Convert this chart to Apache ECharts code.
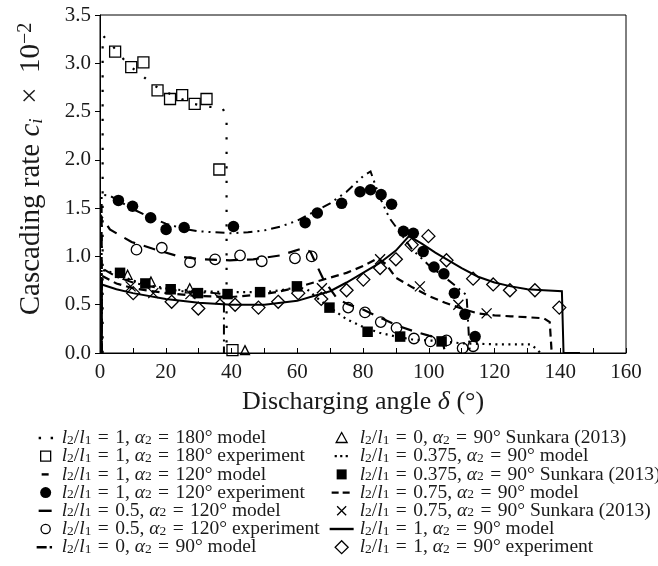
<!DOCTYPE html>
<html><head><meta charset="utf-8">
<script src="https://cdn.jsdelivr.net/npm/echarts@6/dist/echarts.min.js"></script>
<style>html,body{margin:0;padding:0;background:#fff}#c{width:658px;height:566px}</style>
</head><body><div id="c"></div><script>
// ---------- data ----------
const xTicks = [0, 20, 40, 60, 80, 100, 120, 140, 160];
const yTicks = [0, 0.5, 1.0, 1.5, 2.0, 2.5, 3.0, 3.5];

const names = [
  'l2/l1 = 1, α2 = 180° model',
  'l2/l1 = 1, α2 = 180° experiment',
  'l2/l1 = 1, α2 = 120° model',
  'l2/l1 = 1, α2 = 120° experiment',
  'l2/l1 = 0.5, α2 = 120° model',
  'l2/l1 = 0.5, α2 = 120° experiment',
  'l2/l1 = 0, α2 = 90° model',
  'l2/l1 = 0, α2 = 90° Sunkara (2013)',
  'l2/l1 = 0.375, α2 = 90° model',
  'l2/l1 = 0.375, α2 = 90° Sunkara (2013)',
  'l2/l1 = 0.75, α2 = 90° model',
  'l2/l1 = 0.75, α2 = 90° Sunkara (2013)',
  'l2/l1 = 1, α2 = 90° model',
  'l2/l1 = 1, α2 = 90° experiment'
];

const m180 = [[0.8,0],[0.8,3.29],[3.6,3.19],[6.4,3.07],[9.5,2.96],[12.9,2.87],[16.4,2.77],[20.3,2.70],[24.1,2.64],[28.6,2.58],[32.6,2.55],[37.2,2.54],[38.5,2.45],[38.5,0]];
const e180 = [[4.6,3.12],[9.5,2.96],[13.2,3.01],[17.5,2.72],[21.3,2.63],[25.0,2.67],[28.8,2.58],[32.4,2.63],[36.3,1.90],[40.3,0.03]];
const m120 = [[0.5,0],[0.5,1.64],[3,1.63],[6,1.57],[10,1.49],[15,1.41],[20,1.34],[25,1.29],[30,1.26],[35,1.25],[40,1.24],[45,1.25],[50,1.27],[55,1.31],[60,1.37],[65,1.46],[70,1.55],[75,1.67],[80,1.83],[82.3,1.88],[85,1.62],[88,1.40],[91,1.26],[95,1.07],[100,0.91],[105,0.78],[108,0.70],[111.5,0.60],[112,0.30],[112.5,0]];
const e120 = [[5.6,1.58],[9.9,1.52],[15.4,1.40],[20.1,1.28],[25.6,1.30],[40.6,1.31],[62.4,1.35],[66.1,1.45],[73.5,1.55],[79.1,1.67],[82.3,1.69],[85.5,1.64],[88.7,1.54],[92.3,1.26],[95.3,1.24],[98.3,1.05],[101.6,0.89],[104.6,0.82],[107.8,0.62],[111.0,0.40],[114.1,0.17]];
const m05 = [[0.5,0],[0.5,1.41],[3,1.28],[6,1.22],[9.6,1.15],[17,1.07],[24,1.00],[31,0.97],[39.5,0.96],[46.6,0.97],[54.8,1.01],[61.3,1.08],[64,1.05],[65.9,0.91],[68,0.76],[72,0.57],[75,0.51],[80,0.45],[85,0.37],[90,0.29],[95,0.23],[100,0.18],[104,0.15],[105,0]];
const e05 = [[11.1,1.07],[18.8,1.09],[27.4,0.94],[35,0.97],[42.6,1.01],[49.2,0.95],[59.3,0.98],[64.4,1.00],[75.5,0.47],[80.6,0.42],[85.4,0.32],[90.2,0.26],[95.5,0.15],[100.5,0.12],[105.4,0.13],[110.3,0.05],[113.5,0.07]];
const m0 = [[0.5,0],[0.5,0.88],[5,0.79],[10,0.73],[15,0.69],[20,0.66],[25,0.64],[30,0.63],[35,0.62],[37.7,0.61],[37.7,0]];
const s0 = [[8.4,0.81],[15.5,0.74],[27.3,0.67],[44.1,0.03]];
const m0375 = [[0.5,0],[0.5,0.86],[3,0.84],[6,0.80],[10,0.75],[15,0.70],[20,0.67],[25,0.65],[30,0.64],[40,0.63],[50,0.63],[55,0.65],[60,0.68],[63,0.66],[66,0.57],[70,0.47],[75,0.35],[80,0.27],[85,0.21],[90,0.17],[95,0.14],[100,0.13],[105,0.12],[110,0.10],[120,0.09],[131,0.09],[132.5,0.05],[134,0]];
const s0375 = [[6.1,0.83],[13.8,0.72],[21.5,0.66],[29.8,0.62],[38.8,0.61],[48.7,0.63],[59.9,0.69],[69.8,0.47],[81.4,0.22],[91.3,0.17],[103.9,0.12]];
const m075 = [[0.5,0],[0.5,0.80],[5,0.72],[10,0.67],[20,0.62],[30,0.59],[40,0.58],[50,0.61],[55,0.64],[60,0.68],[65,0.73],[70,0.78],[75,0.83],[80,0.90],[84.5,0.98],[87,0.92],[90,0.78],[95,0.68],[100,0.59],[105,0.52],[110,0.46],[115,0.41],[120,0.39],[125,0.38],[130,0.37],[135,0.36],[136.8,0.32],[137.4,0]];
const s075 = [[9.3,0.69],[16.2,0.62],[27.5,0.61],[36.5,0.56],[67.5,0.67],[85.2,0.97],[97.3,0.69],[109,0.50],[117.6,0.41]];
const m1 = [[0.5,0],[0.5,0.71],[5,0.66],[10,0.62],[20,0.56],[30,0.52],[40,0.50],[50,0.50],[55,0.52],[60,0.54],[65,0.59],[70,0.64],[75,0.73],[80,0.83],[85,0.93],[90,1.06],[94,1.21],[98,1.13],[102,1.04],[106,0.96],[110,0.88],[115,0.79],[120,0.73],[125,0.69],[130,0.66],[135,0.65],[140.5,0.64],[141,0],[146,0]];
const e1 = [[10.1,0.62],[21.8,0.53],[29.9,0.46],[41.1,0.50],[48.2,0.47],[54.2,0.53],[60.3,0.62],[67.3,0.56],[75,0.65],[80.1,0.76],[85.2,0.88],[90,0.97],[94.8,1.12],[99.9,1.21],[105.4,0.96],[113.5,0.77],[119.6,0.71],[124.7,0.65],[132.3,0.65],[139.7,0.47]];

// ---------- styling ----------
const FONT = '"Liberation Serif", "DejaVu Serif", serif';
const INK = '#000';
const TXT = '#1a1a1a';
const OPEN = {color: 'rgba(0,0,0,0)', borderColor: INK, borderWidth: 1.3, opacity: 1};
const FILLED = {color: INK, borderWidth: 0, opacity: 1};
const CROSS = 'path://M0,0L10,10M10,0L0,10';

function lineS(name, data, dash, width) {
  return {name, type: 'line', data, symbol: 'none', z: 2, animation: false,
    lineStyle: {color: INK, width: width || 2, type: dash || 'solid', cap: 'butt', join: 'miter'},
    itemStyle: {color: INK}, emphasis: {disabled: true}};
}
function scat(name, data, symbol, size, style) {
  return {name, type: 'scatter', data, symbol, symbolSize: size, z: 3, animation: false,
    itemStyle: style, emphasis: {disabled: true}};
}

const series = [
  lineS(names[0], m180, [2.2, 12.3], 2.2),
  scat(names[1], e180, 'rect', 11, OPEN),
  lineS(names[2], m120, [9, 5, 2, 5, 2, 5], 2),
  scat(names[3], e120, 'circle', 11.5, FILLED),
  lineS(names[4], m05, [12, 9], 2.2),
  scat(names[5], e05, 'circle', 10.5, OPEN),
  lineS(names[6], m0, [10, 5, 2, 5], 2),
  scat(names[7], s0, 'triangle', 9, OPEN),
  lineS(names[8], m0375, [2, 4.5], 2.2),
  scat(names[9], s0375, 'rect', 10.5, FILLED),
  lineS(names[10], m075, [8, 5], 2.2),
  scat(names[11], s075, CROSS, 10, OPEN),
  lineS(names[12], m1, 'solid', 2),
  scat(names[13], e1, 'diamond', 13, OPEN)
];

// legend icons: drawn in a W x H box (corner moveTo points fix the box)
function rect(x, y, w, h) { return `M${x},${y}h${w}v${h}h${-w}Z`; }
function icon(kind, W, H) {
  const cx = W / 2, cy = H / 2, t = 2.4;
  let p = '';
  switch (kind) {
    case 'dots2': p = rect(cx - 7, cy - 1.2, 2.4, 2.4) + rect(cx + 5, cy - 1.2, 2.4, 2.4); break;
    case 'shortdash': p = rect(cx - 4, cy - t / 2, 7, t); break;
    case 'dash': p = rect(cx - 7, cy - t / 2, 13, t); break;
    case 'dashdot': p = rect(cx - 9, cy - t / 2, 10, t) + rect(cx + 4, cy - t / 2, 2.4, t); break;
    case 'dots3': p = rect(cx - 7, cy - 1.1, 2.2, 2.2) + rect(cx - 1.5, cy - 1.1, 2.2, 2.2) + rect(cx + 4, cy - 1.1, 2.2, 2.2); break;
    case 'dash2': p = rect(cx - 10, cy - t / 2, 7, t) + rect(cx + 1, cy - t / 2, 7, t); break;
    case 'solid': p = rect(cx - 12, cy - t / 2, 24, t); break;
    case 'square': p = rect(cx - 5, cy - 5, 10, 10); break;
    case 'circle': p = `M${cx + 5.5},${cy}A5.5,5.5 0 1,1 ${cx - 5.5},${cy}A5.5,5.5 0 1,1 ${cx + 5.5},${cy}Z`; break;
    case 'ocircle': p = `M${cx + 4.6},${cy}A4.6,4.6 0 1,1 ${cx - 4.6},${cy}A4.6,4.6 0 1,1 ${cx + 4.6},${cy}Z`; break;
    case 'triangle': p = `M${cx},${cy - 5.5}L${cx + 5.5},${cy + 4.5}L${cx - 5.5},${cy + 4.5}Z`; break;
    case 'cross': p = `M${cx - 4.5},${cy - 4.5}L${cx + 4.5},${cy + 4.5}M${cx + 4.5},${cy - 4.5}L${cx - 4.5},${cy + 4.5}`; break;
    case 'diamond': p = `M${cx},${cy - 6.5}L${cx + 6.5},${cy}L${cx},${cy + 6.5}L${cx - 6.5},${cy}Z`; break;
  }
  return `path://M0,0M${W},${H}` + p;
}
const iconKinds = ['dots2', 'square', 'shortdash', 'circle', 'dash', 'ocircle', 'dashdot',
                   'triangle', 'dots3', 'square', 'dash2', 'cross', 'solid', 'diamond'];
const iconStyles = [FILLED, OPEN, FILLED, FILLED, FILLED, OPEN, FILLED,
                    OPEN, FILLED, FILLED, FILLED, OPEN, FILLED, OPEN];

function legendData(idx, W, H) {
  return idx.map(i => ({name: names[i], icon: icon(iconKinds[i], W, H), itemStyle: iconStyles[i]}));
}
const LFS = 19.5;
const rich = {
  i: {fontFamily: FONT, fontSize: LFS, fontStyle: 'italic', color: TXT, lineHeight: 18},
  s: {fontFamily: FONT, fontSize: 13.5, color: TXT, lineHeight: 10, verticalAlign: 'bottom'},
  e: {fontFamily: FONT, fontSize: LFS, color: TXT, lineHeight: 18, padding: [0, 1.5, 0, 1.5]}
};
function fmt(n) {
  return n.replace(/ = /g, ' {e|=} ').replace(/l([12])/g, '{i|l}{s|$1}').replace(/α2/g, '{i|α}{s|2}');
}
function legend(idx, left, W) {
  return {orient: 'vertical', left, top: 428, height: 200, itemWidth: W, itemHeight: 14, itemGap: -1.8,
    padding: 0, selectedMode: false, data: legendData(idx, W, 14), formatter: fmt,
    textStyle: {fontFamily: FONT, fontSize: LFS, color: TXT, lineHeight: 18, rich}};
}

const option = {
  backgroundColor: '#fff',
  animation: false,
  grid: {left: 100, right: 32, top: 15, bottom: 213, show: true, borderColor: INK, borderWidth: 1},
  legend: [legend([0, 1, 2, 3, 4, 5, 6], 34, 22), legend([7, 8, 9, 10, 11, 12, 13], 328, 26)],
  xAxis: {
    type: 'value', min: xTicks[0], max: xTicks[xTicks.length - 1], interval: xTicks[1] - xTicks[0],
    name: 'Discharging angle {i|δ} (°)', nameLocation: 'middle', nameGap: 36,
    nameTextStyle: {fontFamily: FONT, fontSize: 26, color: TXT,
      rich: {i: {fontFamily: FONT, fontSize: 26, fontStyle: 'italic', color: TXT}}},
    axisLine: {lineStyle: {color: INK, width: 1}},
    axisTick: {inside: true, length: 5, lineStyle: {color: INK}},
    minorTick: {show: true, splitNumber: 2, length: 5, lineStyle: {color: INK}},
    splitLine: {show: false},
    axisLabel: {fontFamily: FONT, fontSize: 21, color: TXT, margin: 9}
  },
  yAxis: {
    type: 'value', min: yTicks[0], max: yTicks[yTicks.length - 1], interval: yTicks[1] - yTicks[0],
    name: 'Cascading rate {i|c}{s|i}  ×  10{p|−2}', nameLocation: 'middle', nameGap: 54, nameRotate: 90,
    nameTextStyle: {fontFamily: FONT, fontSize: 29, color: TXT, padding: [0, 0, 0, 30], lineHeight: 30,
      rich: {
        i: {fontFamily: FONT, fontSize: 29, fontStyle: 'italic', color: TXT, lineHeight: 30},
        s: {fontFamily: FONT, fontSize: 19, fontStyle: 'italic', color: TXT, lineHeight: 16, verticalAlign: 'bottom'},
        p: {fontFamily: FONT, fontSize: 20, color: TXT, lineHeight: 18, verticalAlign: 'top'}
      }},
    axisLine: {lineStyle: {color: INK, width: 1}},
    axisTick: {inside: false, length: 5, lineStyle: {color: INK}},
    splitLine: {show: false},
    axisLabel: {fontFamily: FONT, fontSize: 21, color: TXT, margin: 9, formatter: v => v.toFixed(1)}
  },
  series
};
const chart = echarts.init(document.getElementById('c'), null, {renderer: 'canvas'});
chart.setOption(option);
</script></body></html>
